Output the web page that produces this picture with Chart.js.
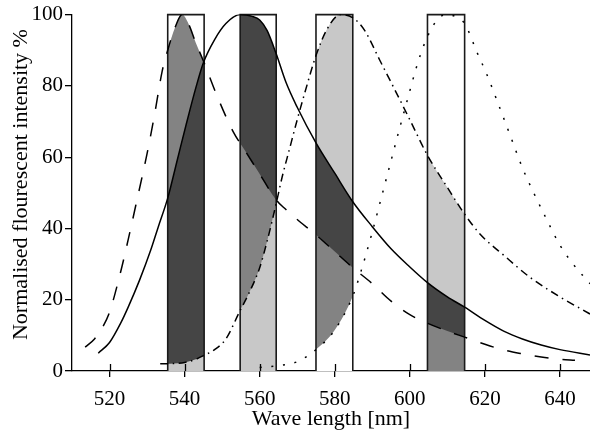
<!DOCTYPE html>
<html lang="en">
<head>
    <meta charset="UTF-8">
    <title>Emission spectra and filter bands</title>
    <script src="https://cdn.jsdelivr.net/npm/chart.js"></script>
    <style>
        body { margin: 0; background: #fff; }
        canvas { display: block; }
    </style>
</head>
<body>
    <canvas id="spectra" width="590" height="436"></canvas>

    <script>
        // Emission spectra, normalised to 100 % at the peak
        const dashedWave = [513.5, 516, 518, 520, 523, 525, 527, 530, 532, 534, 535.5, 537.5, 539.3, 541, 543, 545, 548.6, 553, 556, 560, 564.4, 567, 570, 575, 580, 584.8, 590, 595, 600, 604.7, 610, 614.6, 620, 625, 630, 635, 640, 644];
        const dashedInt = [6.7, 9, 12, 16.5, 28, 37, 46.5, 61, 72, 84, 90, 96.5, 100, 97.5, 92, 87, 77.3, 67, 62, 55.3, 48, 45.3, 42.5, 38.2, 33.5, 29, 24.5, 19.6, 15.8, 13.4, 11.2, 9.5, 7.5, 5.9, 4.8, 3.9, 3.3, 3];

        const solidWave = [517, 520, 523, 525, 528, 531, 533, 535.5, 538, 540.5, 543, 545, 548, 551, 554.8, 558, 560, 562, 564.4, 567, 570, 575, 580, 584.8, 590, 595, 600, 604.7, 610, 614.6, 620, 625, 630, 635, 640, 648];
        const solidInt = [5, 8, 13.5, 18, 25.5, 34, 40.5, 48.5, 59, 69.5, 79.5, 86.5, 93, 97.5, 100, 99.5, 98.5, 95.5, 89, 81, 74, 64, 55.5, 47.5, 40.5, 34.3, 29.2, 24.8, 20.8, 17.9, 14.2, 11.2, 9, 7.3, 6, 4.5];

        const dashDotWave = [533.5, 537, 540, 543, 545.2, 548, 551, 554.8, 557, 560, 562, 564.4, 566, 568, 570, 572, 575, 578, 581.5, 585, 588, 592, 595, 600, 604.7, 610, 614.6, 618.8, 625, 632, 640, 648];
        const dashDotInt = [2, 2.1, 2.4, 3.3, 4.4, 6, 9, 17, 21.5, 29, 36.5, 47, 54.5, 62.5, 70.5, 78, 88.5, 96, 100, 99, 95.5, 87.2, 81, 70.5, 60.5, 51.5, 44, 38.3, 32.5, 26.3, 20.8, 16];

        const dottedWave = [560, 565, 570, 575, 580, 584.8, 587, 590, 592.5, 595, 597, 599.2, 601.7, 603.7, 606, 608, 610, 612, 614.6, 617.9, 620.6, 623.9, 627.2, 630, 633, 636, 640, 643.5, 648];
        const dottedInt = [1, 1.5, 2.6, 6, 11.5, 21, 28, 39, 49, 59, 67, 75.5, 85, 91.3, 96.5, 99.3, 100, 99.5, 97.5, 89.4, 83, 74, 64.8, 57, 50, 43.5, 35.3, 30, 24.5];

        // Detection windows [from, to] in nm
        const bandEdges = [[535.5, 545.2], [554.8, 564.4], [575, 584.8], [604.7, 614.6]];

        const xTicks = [520, 540, 560, 580, 600, 620, 640];
        const yTicks = [0, 20, 40, 60, 80, 100];

        // curve index per band, from the highest curve down to the lowest
        const bandLayers = [[0, 1, 2], [1, 0, 2], [2, 1, 0, 3], [3, 2, 1, 0]];
        const curveShade = ['#838383', '#454545', '#c8c8c8', '#ffffff'];

        const serif = 'Liberation Serif, Times New Roman, serif';

        function toPoints(xs, ys) {
            return xs.map((x, i) => ({ x: x, y: ys[i] }));
        }

        function curve(xs, ys, dash) {
            return {
                data: toPoints(xs, ys),
                showLine: true,
                borderColor: '#000',
                borderWidth: 1.5,
                borderDash: dash,
                pointRadius: 0,
                cubicInterpolationMode: 'monotone',
                fill: false,
                order: 1
            };
        }

        const curves = [
            curve(dashedWave, dashedInt, [14, 14]),
            curve(solidWave, solidInt, []),
            curve(dashDotWave, dashDotInt, [8, 4.5, 1.5, 4.5]),
            curve(dottedWave, dottedInt, [2, 9.7])
        ];

        const frames = bandEdges.map(b => ({
            data: [{ x: b[0], y: 0 }, { x: b[0], y: 100 }, { x: b[1], y: 100 }, { x: b[1], y: 0 }],
            showLine: true,
            borderColor: '#1a1a1a',
            borderWidth: 1.6,
            pointRadius: 0,
            tension: 0,
            fill: false,
            clip: 4,
            order: 2
        }));

        // shades the part of each window that lies under the curves
        const bandShading = {
            id: 'bandShading',
            beforeDatasetsDraw(chart) {
                const { ctx, chartArea, scales: { x, y } } = chart;
                const y0 = y.getPixelForValue(0);
                const yTop = y.getPixelForValue(100);
                bandEdges.forEach((band, b) => {
                    const left = x.getPixelForValue(band[0]);
                    const right = x.getPixelForValue(band[1]);
                    bandLayers[b].forEach(k => {
                        const line = chart.getDatasetMeta(k).dataset;
                        line.updateControlPoints(chartArea, 'x');
                        const pts = line.points;
                        ctx.save();
                        ctx.beginPath();
                        ctx.rect(left, yTop, right - left, y0 - yTop);
                        ctx.clip();
                        ctx.beginPath();
                        line.path(ctx);
                        ctx.lineTo(pts[pts.length - 1].x, y0);
                        ctx.lineTo(pts[0].x, y0);
                        ctx.closePath();
                        ctx.fillStyle = curveShade[k];
                        ctx.fill();
                        ctx.restore();
                    });
                });
            }
        };

        // x ticks also reach into the plot
        const innerTicks = {
            id: 'innerTicks',
            afterDraw(chart) {
                const { ctx, scales: { x, y } } = chart;
                const y0 = y.getPixelForValue(0);
                ctx.save();
                ctx.strokeStyle = '#000';
                ctx.lineWidth = 1.3;
                xTicks.forEach(v => {
                    const px = Math.round(x.getPixelForValue(v)) + 0.5;
                    ctx.beginPath();
                    ctx.moveTo(px, y0);
                    ctx.lineTo(px, y0 - 7);
                    ctx.stroke();
                });
                ctx.restore();
            }
        };

        new Chart(document.getElementById('spectra'), {
            type: 'scatter',
            data: { datasets: curves.concat(frames) },
            options: {
                responsive: false,
                animation: false,
                events: [],
                layout: { padding: { top: 12, right: 0, bottom: 0, left: 0 } },
                plugins: {
                    legend: { display: false },
                    tooltip: { enabled: false }
                },
                scales: {
                    x: {
                        type: 'linear',
                        min: 510,
                        max: 648,
                        afterBuildTicks: s => { s.ticks = xTicks.map(v => ({ value: v })); },
                        afterFit: s => { s.height = 65; },
                        ticks: { color: '#000', font: { family: serif, size: 21 }, padding: 10 },
                        grid: { drawOnChartArea: false, drawTicks: true, tickLength: 6, color: '#000', lineWidth: 1.3 },
                        border: { display: true, color: '#000', width: 1.3 },
                        title: {
                            display: true,
                            text: 'Wave length [nm]',
                            color: '#000',
                            font: { family: serif, size: 22 },
                            padding: { top: 0, bottom: 4 }
                        }
                    },
                    y: {
                        type: 'linear',
                        min: 0,
                        max: 100,
                        afterBuildTicks: s => { s.ticks = yTicks.map(v => ({ value: v })); },
                        afterFit: s => { s.width = 72; },
                        ticks: { color: '#000', font: { family: serif, size: 21 }, padding: 2 },
                        grid: { drawOnChartArea: false, drawTicks: true, tickLength: 7, color: '#000', lineWidth: 1.3 },
                        border: { display: true, color: '#000', width: 1.3 },
                        title: {
                            display: true,
                            text: '\u00a0\u00a0\u00a0Normalised flourescent intensity %',
                            color: '#000',
                            font: { family: serif, size: 22 },
                            padding: { top: 8, bottom: 0 }
                        }
                    }
                }
            },
            plugins: [bandShading, innerTicks]
        });
    </script>
</body>
</html>
